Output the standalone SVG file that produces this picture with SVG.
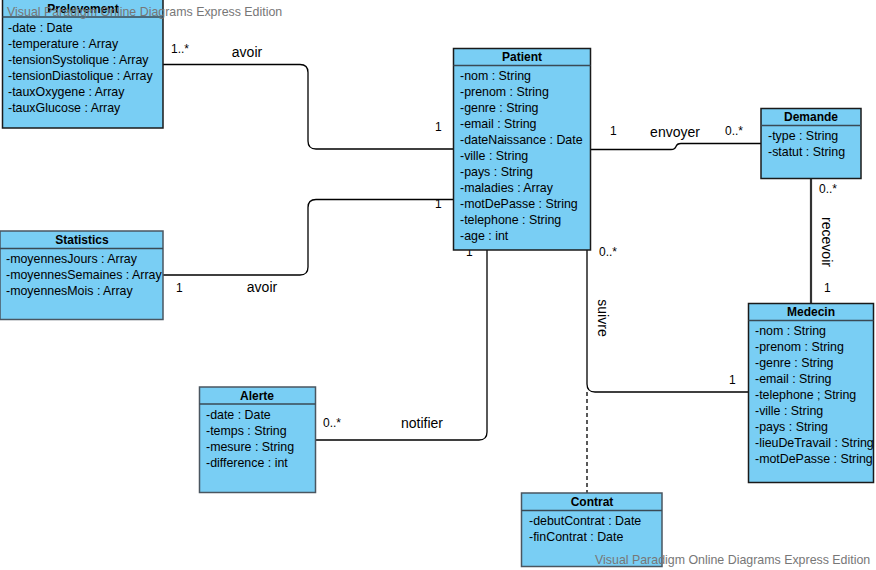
<svg xmlns="http://www.w3.org/2000/svg" width="876" height="570" viewBox="0 0 876 570">
<style>
.box{fill:#79CEF4;stroke:#1a1a1a;stroke-width:1.5}
.box2{fill:#79CEF4;stroke:#4a5660;stroke-width:1.5}
.sep{stroke:#3a4a55;stroke-width:1.5}
.h{font-family:"Liberation Sans",Arial,sans-serif;font-size:12px;font-weight:bold;text-anchor:middle;fill:#000}
.a{font-family:"Liberation Sans",Arial,sans-serif;font-size:12.4px;fill:#000}
.l{font-family:"Liberation Sans",Arial,sans-serif;font-size:14px;fill:#000}
.m{font-family:"Liberation Sans",Arial,sans-serif;font-size:12px;fill:#000}
.c{fill:none;stroke:#000;stroke-width:1.3}
.wm{font-family:"Liberation Sans",Arial,sans-serif;font-size:12.4px;fill:#777}
</style>
<rect width="876" height="570" fill="#fff"/>
<g id="connectors">
<path class="c" d="M163,64.5 H300 Q308,64.5 308,72.5 V141 Q308,149 316,149 H453"/>
<path class="c" d="M163,275 H300 Q308,275 308,267 V207.5 Q308,199.5 316,199.5 H453"/>
<path class="c" d="M591,149.5 H671 Q675,149.5 676,146.5 Q677,143.5 681,143.5 H761"/>
<path d="M811,178.5 V303.5" fill="none" stroke="#333" stroke-width="2.2"/>
<path class="c" d="M522,250 V246 Q522,238 530,238 H579 Q587,238 587,246 V384 Q587,392 595,392 H748"/>
<path d="M587,392 V493" fill="none" stroke="#000" stroke-width="1.3" stroke-dasharray="4,3"/>
<path class="c" d="M316,440 H479 Q487,440 487,432 V250"/>
<text class="m" x="171" y="53">1..*</text>
<text class="l" x="247" y="57" text-anchor="middle">avoir</text>
<text class="m" x="435" y="131">1</text>
<text class="m" x="176" y="292">1</text>
<text class="l" x="262" y="292" text-anchor="middle">avoir</text>
<text class="m" x="435" y="208">1</text>
<text class="m" x="610" y="135">1</text>
<text class="l" x="675" y="137" text-anchor="middle">envoyer</text>
<text class="m" x="725" y="135">0..*</text>
<text class="m" x="819" y="193">0..*</text>
<text class="l" transform="translate(822,242) rotate(90)" text-anchor="middle">recevoir</text>
<text class="m" x="824" y="292">1</text>
<text class="m" x="599" y="256">0..*</text>
<text class="l" transform="translate(598,318) rotate(90)" text-anchor="middle">suivre</text>
<text class="m" x="729" y="384">1</text>
<text class="m" x="323" y="427">0..*</text>
<text class="l" x="422" y="428" text-anchor="middle">notifier</text>
<text class="m" x="466" y="256">1</text>
</g>
<g id="Prelevement">
<rect class="box" x="2.5" y="-1" width="160.5" height="129"/>
<line class="sep" x1="2.5" y1="17" x2="163" y2="17"/>
<text class="h" x="83" y="13">Prelevement</text>
<text class="a" x="8" y="32">-date : Date</text>
<text class="a" x="8" y="48">-temperature : Array</text>
<text class="a" x="8" y="64">-tensionSystolique : Array</text>
<text class="a" x="8" y="80">-tensionDiastolique : Array</text>
<text class="a" x="8" y="96">-tauxOxygene : Array</text>
<text class="a" x="8" y="112">-tauxGlucose : Array</text>
</g>
<g id="Patient">
<rect class="box" x="453.5" y="48.5" width="137" height="201.5"/>
<line class="sep" x1="453.5" y1="65.5" x2="590.5" y2="65.5"/>
<text class="h" x="522" y="61">Patient</text>
<text class="a" x="460" y="80">-nom : String</text>
<text class="a" x="460" y="96">-prenom : String</text>
<text class="a" x="460" y="112">-genre : String</text>
<text class="a" x="460" y="128">-email : String</text>
<text class="a" x="460" y="144">-dateNaissance : Date</text>
<text class="a" x="460" y="160">-ville : String</text>
<text class="a" x="460" y="176">-pays : String</text>
<text class="a" x="460" y="192">-maladies : Array</text>
<text class="a" x="460" y="208">-motDePasse : String</text>
<text class="a" x="460" y="224">-telephone : String</text>
<text class="a" x="460" y="240">-age : int</text>
</g>
<g id="Demande">
<rect class="box" x="761" y="108.5" width="100" height="70"/>
<line class="sep" x1="761" y1="125.5" x2="861" y2="125.5"/>
<text class="h" x="811" y="121">Demande</text>
<text class="a" x="768" y="140">-type : String</text>
<text class="a" x="768" y="156">-statut : String</text>
</g>
<g id="Medecin">
<rect class="box" x="748.5" y="303.5" width="125" height="179"/>
<line class="sep" x1="748.5" y1="320.5" x2="873.5" y2="320.5"/>
<text class="h" x="811" y="316">Medecin</text>
<text class="a" x="755" y="335">-nom : String</text>
<text class="a" x="755" y="351">-prenom : String</text>
<text class="a" x="755" y="367">-genre : String</text>
<text class="a" x="755" y="383">-email : String</text>
<text class="a" x="755" y="399">-telephone ; String</text>
<text class="a" x="755" y="415">-ville : String</text>
<text class="a" x="755" y="431">-pays : String</text>
<text class="a" x="755" y="447">-lieuDeTravail : String</text>
<text class="a" x="755" y="463">-motDePasse : String</text>
</g>
<g id="Statistics">
<rect class="box2" x="0" y="231" width="163" height="88.5"/>
<line class="sep" x1="0" y1="248.5" x2="163" y2="248.5"/>
<text class="h" x="82" y="244">Statistics</text>
<text class="a" x="6" y="263">-moyennesJours : Array</text>
<text class="a" x="6" y="279">-moyennesSemaines : Array</text>
<text class="a" x="6" y="295">-moyennesMois : Array</text>
</g>
<g id="Alerte">
<rect class="box2" x="199.5" y="387" width="116" height="105.5"/>
<line class="sep" x1="199.5" y1="404" x2="315.5" y2="404"/>
<text class="h" x="257" y="400">Alerte</text>
<text class="a" x="206" y="419">-date : Date</text>
<text class="a" x="206" y="435">-temps : String</text>
<text class="a" x="206" y="451">-mesure : String</text>
<text class="a" x="206" y="467">-difference : int</text>
</g>
<g id="Contrat">
<rect class="box2" x="521.5" y="493" width="140.5" height="73.5"/>
<line class="sep" x1="521.5" y1="510.5" x2="662" y2="510.5"/>
<text class="h" x="592" y="506">Contrat</text>
<text class="a" x="529" y="525">-debutContrat : Date</text>
<text class="a" x="529" y="541">-finContrat : Date</text>
</g>
<g id="watermark">
<text class="wm" x="7" y="16">Visual Paradigm Online Diagrams Express Edition</text>
<text class="wm" x="595" y="564">Visual Paradigm Online Diagrams Express Edition</text>
</g>
</svg>
